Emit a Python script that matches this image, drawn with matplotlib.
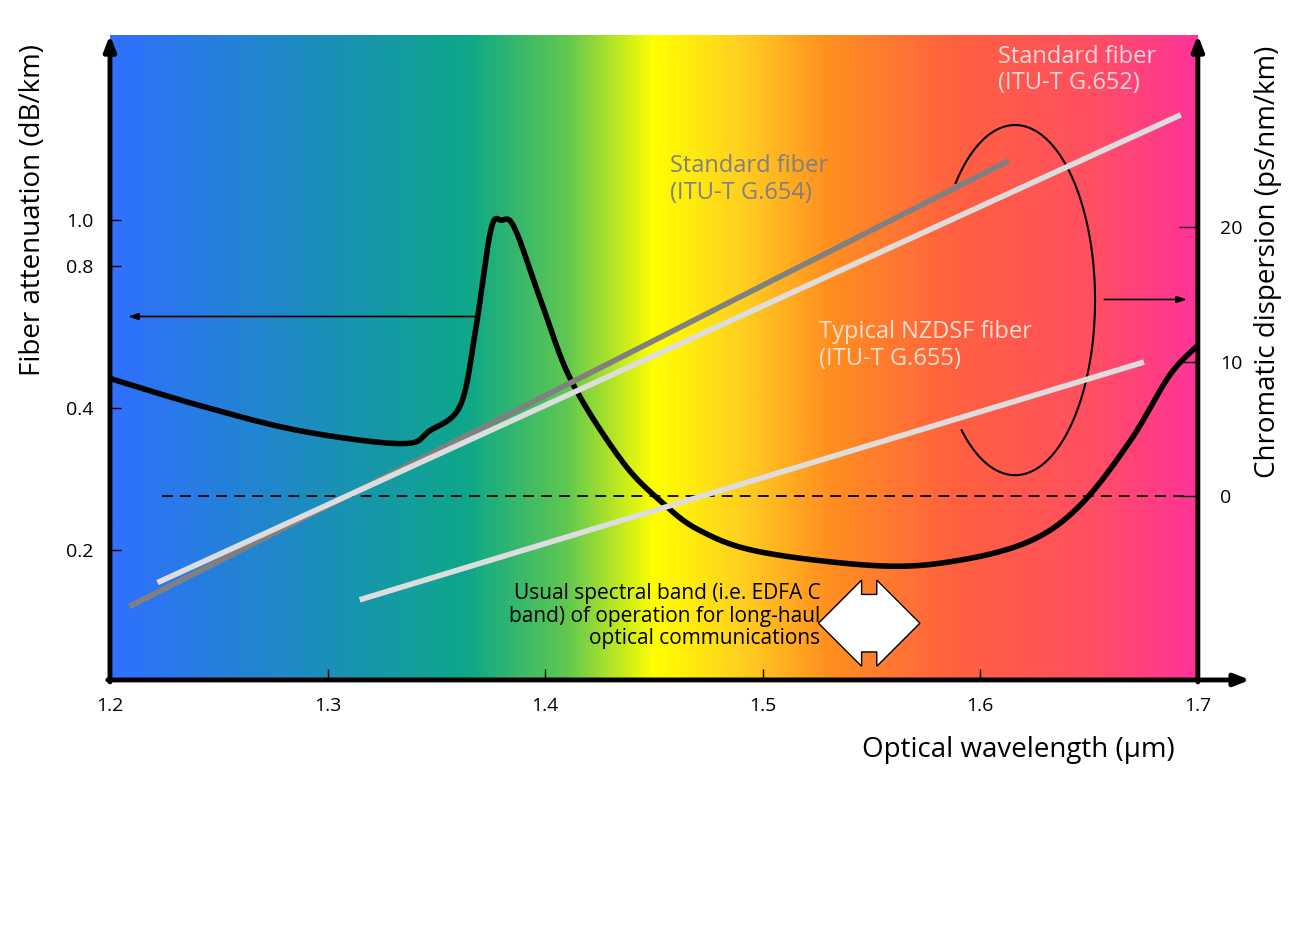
import numpy as np
import matplotlib
matplotlib.use("Agg")
import matplotlib.pyplot as plt
from matplotlib.colors import LinearSegmentedColormap
from matplotlib.ticker import NullLocator, FixedLocator, FixedFormatter

plt.rcParams['font.family'] = ['Open Sans', 'DejaVu Sans']

# attenuation curve
wl_att = [1.200, 1.241, 1.287, 1.334, 1.347, 1.361, 1.368, 1.375, 1.380, 1.386, 1.398,
          1.412, 1.435, 1.453, 1.471, 1.499, 1.554, 1.590, 1.623, 1.646, 1.669, 1.687, 1.700]
att = [0.462, 0.405, 0.358, 0.336, 0.358, 0.405, 0.584, 0.952, 1.0, 0.962, 0.676,
       0.457, 0.310, 0.254, 0.220, 0.198, 0.185, 0.190, 0.209, 0.249, 0.341, 0.469, 0.543]

# dispersion lines (endpoints)
g654_wl = [1.210, 1.612]; g654_d = [-8.07, 24.8]
g652_wl = [1.223, 1.691]; g652_d = [-6.3, 28.2]
g655_wl = [1.316, 1.674]; g655_d = [-7.6, 9.9]

att_ticks = [0.2, 0.4, 0.8, 1.0]
att_labels = ["0.2", "0.4", "0.8", "1.0"]
wl_ticks = [1.2, 1.3, 1.4, 1.5, 1.6, 1.7]
d_ticks = [0, 10, 20]


def smooth(xs, ys, n=20):
    # Catmull-Rom rendering of the read points (in log space for y)
    x = np.asarray(xs); y = np.log10(ys)
    P = np.column_stack([x, y])
    P = np.vstack([P[0], P, P[-1]])
    out = []
    for i in range(1, len(P) - 2):
        p0, p1, p2, p3 = P[i - 1], P[i], P[i + 1], P[i + 2]
        t = np.linspace(0, 1, n, endpoint=False)[:, None]
        out.append(0.5 * ((2 * p1) + (-p0 + p2) * t + (2 * p0 - 5 * p1 + 4 * p2 - p3) * t ** 2
                          + (-p0 + 3 * p1 - 3 * p2 + p3) * t ** 3))
    out.append(P[-2][None, :])
    out = np.vstack(out)
    return out[:, 0], 10 ** out[:, 1]


fig = plt.figure(figsize=(13.06, 9.47), dpi=100)
ax = fig.add_axes([0.0842, 0.282, 0.833, 0.681])
ax.set_xlim(1.2, 1.7)
ax.set_yscale('log')
ax.set_ylim(0.106, 2.47)

cmap = LinearSegmentedColormap.from_list('spec', [
    (0.0, '#3070FF'), (0.2, '#1A90B8'), (0.33, '#0EA888'), (0.42, '#60C850'),
    (0.50, '#FFFF00'), (0.58, '#FFD020'), (0.66, '#FF9020'), (0.78, '#FF6040'),
    (0.90, '#FF5060'), (1.0, '#FF3399')])
grad = np.linspace(0, 1, 512).reshape(1, -1)
ax.imshow(grad, cmap=cmap, aspect='auto', extent=[0, 1, 0, 1],
          transform=ax.transAxes, zorder=0)

sx, sy = smooth(wl_att, att)
ax.plot(sx, sy, color='black', lw=4, zorder=3, solid_capstyle='round')

for s in ax.spines.values():
    s.set_visible(False)
ax.yaxis.set_minor_locator(NullLocator())
ax.yaxis.set_major_locator(FixedLocator(att_ticks))
ax.yaxis.set_major_formatter(FixedFormatter(att_labels))
ax.set_xticks(wl_ticks)
ax.set_xticklabels([f"{t:.1f}" for t in wl_ticks])
ax.tick_params(axis='both', direction='in', length=8, width=1, labelsize=14, pad=12)
ax.tick_params(axis='x', pad=12)

ax2 = ax.twinx()
ax2.set_ylim(-13.6, 34.2)
for s in ax2.spines.values():
    s.set_visible(False)
ax2.set_yticks(d_ticks)
ax2.tick_params(axis='y', direction='in', length=14, width=1, labelsize=14, pad=16)
ax2.plot(g654_wl, g654_d, color='#808080', lw=4, zorder=4)
ax2.plot(g652_wl, g652_d, color='#DDDDDD', lw=4, zorder=4)
ax2.plot(g655_wl, g655_d, color='#DDDDDD', lw=4, zorder=4)
ax2.plot([1.224, 1.696], [0, 0], color='black', lw=1.3, ls=(0, (6, 4)), zorder=3)

# axis arrows
ak = dict(arrowstyle='-|>,head_length=0.9,head_width=0.35', color='black', lw=3.5,
          shrinkA=0, shrinkB=0)
ax.annotate('', xy=(0, 1.0), xytext=(0, -0.003), xycoords='axes fraction', arrowprops=ak, annotation_clip=False)
ax.annotate('', xy=(1, 1.0), xytext=(1, -0.003), xycoords='axes fraction', arrowprops=ak, annotation_clip=False)
ax.annotate('', xy=(1.048, 0), xytext=(-0.002, 0), xycoords='axes fraction', arrowprops=ak, annotation_clip=False)

# pointer arrows
pk = dict(arrowstyle='-|>,head_length=0.6,head_width=0.2', color='black', lw=1.2,
          shrinkA=0, shrinkB=0)
ax.annotate('', xy=(1.2083, 0.625), xytext=(1.369, 0.625), arrowprops=pk, zorder=5)
ax2.annotate('', xy=(1.695, 14.6), xytext=(1.657, 14.6), arrowprops=pk, zorder=5)

# ellipse arc (open on the left)
t = np.radians(np.linspace(138, -132, 200))
ax.plot(0.832 + 0.0735 * np.cos(t), 0.589 + 0.2715 * np.sin(t), transform=ax.transAxes,
        color='black', lw=1.5, zorder=5)

# band double arrow
ax.text(1.5497, 0.088, "     ", transform=ax.get_xaxis_transform(), ha='center', va='center',
        fontsize=22, bbox=dict(boxstyle='darrow,pad=0.45', fc='white', ec='black', lw=1), zorder=6)

ax.text(0.816, 0.985, "Standard fiber\n(ITU-T G.652)", transform=ax.transAxes, ha='left', va='top',
        fontsize=17, color='#F8D8DC', linespacing=1.15)
ax.text(0.515, 0.815, "Standard fiber\n(ITU-T G.654)", transform=ax.transAxes, ha='left', va='top',
        fontsize=17, color='#808080', linespacing=1.15)
ax.text(0.652, 0.558, "Typical NZDSF fiber\n(ITU-T G.655)", transform=ax.transAxes, ha='left', va='top',
        fontsize=17, color='#F8E0D0', linespacing=1.15)
ax.text(0.653, 0.150, "Usual spectral band (i.e. EDFA C\nband) of operation for long-haul\noptical communications",
        transform=ax.transAxes, ha='right', va='top', fontsize=15, color='black', linespacing=1.1)

fig.text(33/1306, 1 - 210/947, "Fiber attenuation (dB/km)", rotation=90, ha='center', va='center', fontsize=20)
fig.text(1268/1306, 1 - 262/947, "Chromatic dispersion (ps/nm/km)", rotation=90, ha='center', va='center', fontsize=20)
fig.text(1018/1306, 1 - 750/947, "Optical wavelength (µm)", ha='center', va='center', fontsize=20)

fig.savefig("out.png", dpi=100)
